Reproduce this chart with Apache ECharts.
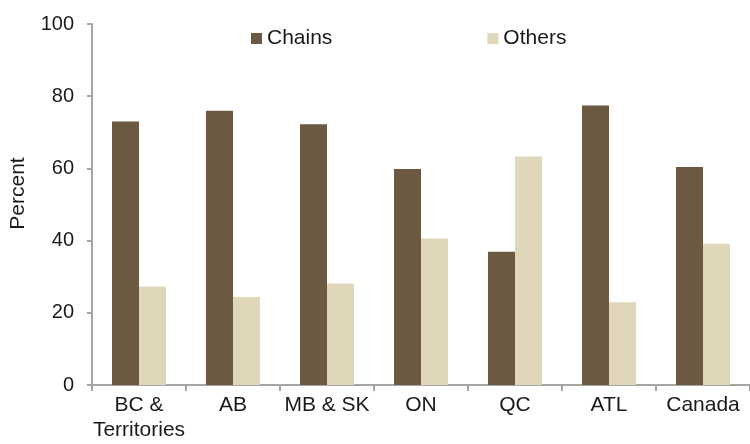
<!DOCTYPE html>
<html>
<head>
<meta charset="utf-8">
<script src="https://cdn.jsdelivr.net/npm/echarts@6/dist/echarts.min.js"></script>
<style>html,body{margin:0;padding:0;background:#fff;}#c{width:750px;height:444px;}</style>
</head>
<body>
<div id="c"></div>
<script>
const categories = ['BC &\nTerritories', 'AB', 'MB & SK', 'ON', 'QC', 'ATL', 'Canada'];
const chains = [73.0, 76.0, 72.2, 59.8, 36.9, 77.4, 60.4];
const others = [27.3, 24.4, 28.1, 40.6, 63.3, 22.9, 39.1];
const yTicks = [0, 20, 40, 60, 80, 100];

const font = 'Liberation Sans, Arial, sans-serif';
const axisGray = '#a6a6a6';
const chart = echarts.init(document.getElementById('c'), null, {renderer: 'canvas'});
chart.setOption({
  animation: false,
  backgroundColor: '#fff',
  textStyle: {fontFamily: font},
  legend: {
    left: 251, top: 28, padding: 0,
    itemWidth: 11, itemHeight: 11, itemGap: 155,
    icon: 'rect',
    textStyle: {fontSize: 21, color: '#1a1a1a', fontFamily: font},
    data: ['Chains', 'Others']
  },
  grid: {left: 89.5, right: 0, top: 24, bottom: 59, containLabel: false},
  xAxis: {
    type: 'category',
    data: categories,
    axisLine: {lineStyle: {color: axisGray, width: 2}},
    axisTick: {show: true, length: 6, lineStyle: {color: axisGray, width: 2}},
    axisLabel: {fontSize: 21, color: '#1a1a1a', margin: 8, lineHeight: 25, interval: 0, fontFamily: font}
  },
  yAxis: {
    type: 'value',
    min: yTicks[0], max: yTicks[yTicks.length - 1], interval: 20,
    name: 'Percent', nameLocation: 'middle', nameGap: 63,
    nameTextStyle: {fontSize: 21, color: '#1a1a1a', fontFamily: font, padding: [0, 0, 0, 22]},
    axisLine: {show: true, lineStyle: {color: axisGray, width: 2}},
    axisTick: {show: true, length: 5, lineStyle: {color: axisGray, width: 2}},
    splitLine: {show: false},
    axisLabel: {fontSize: 20, color: '#1a1a1a', margin: 18, fontFamily: font}
  },
  series: [
    {name: 'Chains', type: 'bar', data: chains, barWidth: 27, barGap: '0%',
     itemStyle: {color: '#6b5942'}},
    {name: 'Others', type: 'bar', data: others, barWidth: 27,
     itemStyle: {color: '#e0d6b9'}}
  ]
});
</script>
</body>
</html>
